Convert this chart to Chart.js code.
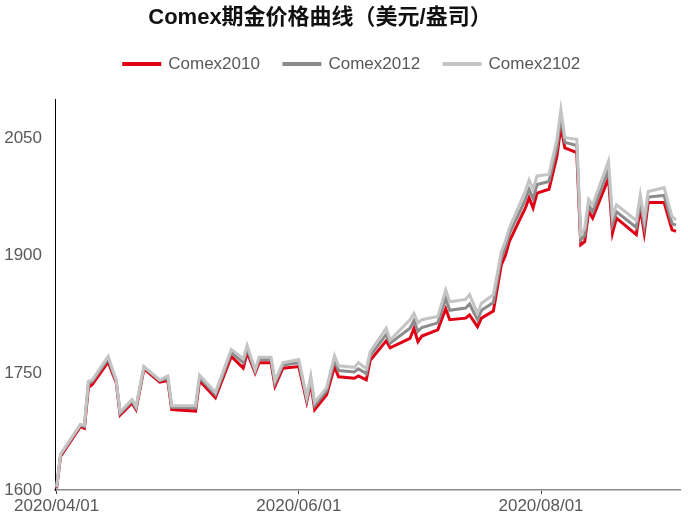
<!DOCTYPE html>
<html>
<head>
<meta charset="utf-8">
<script src="https://cdn.jsdelivr.net/npm/chart.js@4.4.1/dist/chart.umd.min.js"></script>
<style>
  html, body { margin: 0; padding: 0; background: #fff; }
  #wrap { width: 688px; height: 521px; }
</style>
</head>
<body>
<div id="wrap"><canvas id="myChart" width="688" height="521"></canvas></div>
<script>
// trading days (only where the lines turn)
var dates = [
  '2020-04-01','2020-04-02','2020-04-07','2020-04-08','2020-04-09','2020-04-10','2020-04-14','2020-04-15',
  '2020-04-16','2020-04-17','2020-04-20','2020-04-21','2020-04-23','2020-04-27','2020-04-29','2020-04-30',
  '2020-05-06','2020-05-07','2020-05-11','2020-05-15','2020-05-18','2020-05-19','2020-05-21','2020-05-22',
  '2020-05-25','2020-05-26','2020-05-28',
  '2020-06-01','2020-06-03','2020-06-04','2020-06-05','2020-06-08','2020-06-10','2020-06-11','2020-06-15',
  '2020-06-16','2020-06-18','2020-06-19','2020-06-23','2020-06-24','2020-06-29','2020-06-30',
  '2020-07-01','2020-07-02','2020-07-06','2020-07-08','2020-07-09','2020-07-13','2020-07-14','2020-07-16',
  '2020-07-17','2020-07-20','2020-07-22','2020-07-23','2020-07-24','2020-07-27','2020-07-28','2020-07-29',
  '2020-07-30','2020-07-31',
  '2020-08-03','2020-08-05','2020-08-06','2020-08-07','2020-08-10','2020-08-11','2020-08-12','2020-08-13',
  '2020-08-14','2020-08-18','2020-08-19','2020-08-20','2020-08-25','2020-08-26','2020-08-27','2020-08-28',
  '2020-09-01','2020-09-03','2020-09-04'
];

var comex2010 = [
  1602,1643,1681,1679,1731,1735,1764,1750,1738,1696,1711,1703,1755,1738,1740,1703,
  1701,1740,1718,1771,1756,1776,1750,1763,1763,1733,1756,
  1758,1713,1737,1703,1722,1758,1745,1743,1746,1741,1766,1791,1782,1794,1807,
  1790,1797,1805,1832,1818,1820,1824,1809,1820,1829,1888,1900,1918,1950,1960,1974,1961,1980,
  1985,2027,2065,2038,2032,1914,1918,1957,1948,1999,1929,1948,1927,1961,1929,1968,
  1968,1933,1931
];

var comex2012 = [
  1603,1645,1683,1681,1736,1739,1768,1753,1740,1698,1714,1705,1757,1740,1743,1706,
  1705,1744,1722,1776,1763,1781,1752,1767,1767,1737,1760,
  1763,1716,1742,1708,1727,1766,1753,1751,1755,1749,1772,1799,1788,1807,1817,
  1803,1808,1814,1845,1830,1833,1838,1818,1830,1840,1897,1910,1928,1960,1971,1985,1973,1991,
  1995,2038,2077,2045,2041,1920,1926,1965,1956,2010,1940,1956,1936,1970,1938,1975,
  1977,1941,1939
];

var comex2102 = [
  1604,1646,1684,1683,1739,1741,1771,1756,1741,1700,1716,1707,1758,1741,1746,1708,
  1708,1747,1725,1780,1768,1785,1754,1770,1770,1740,1763,
  1767,1719,1746,1712,1731,1772,1759,1757,1763,1755,1777,1807,1792,1818,1826,
  1814,1818,1822,1856,1841,1844,1850,1826,1839,1850,1905,1918,1935,1970,1982,1997,1985,2002,
  2004,2049,2087,2051,2049,1927,1935,1972,1965,2021,1950,1965,1945,1978,1947,1982,
  1987,1950,1946
];

var xTickLabels = ['2020/04/01','2020/06/01','2020/08/01'];
var yTicks = [1600, 1750, 1900, 2050];

var fontFamily = '"Liberation Sans", Arial, "Noto Sans CJK SC", sans-serif';
var textColor = '#595959';

function dayOf(s) {
  var p = s.split(/[-\/]/);
  return (Date.UTC(+p[0], +p[1] - 1, +p[2]) - Date.UTC(2020, 3, 1)) / 86400000;
}

function points(values) {
  return values.map(function (v, i) { return { x: dayOf(dates[i]), y: v }; });
}

// gap under the legend, and nudge title / legend sideways like the original
var legendGap = {
  id: 'legendGap',
  beforeInit: function (chart) {
    var fit = chart.legend.fit;
    chart.legend.fit = function () {
      fit.bind(chart.legend)();
      this.height += 17;
    };
  },
  afterLayout: function (chart) {
    chart.titleBlock.right = chart.titleBlock.left + 640;
    chart.legend.left += 12;
    chart.legend.right += 12;
  }
};

var ctx = document.getElementById('myChart').getContext('2d');
var chart = new Chart(ctx, {
  type: 'line',
  data: {
    datasets: [{
      label: 'Comex2010',
      data: points(comex2010),
      borderColor: '#E00016',
      backgroundColor: '#E00016',
      order: 2
    }, {
      label: 'Comex2012',
      data: points(comex2012),
      borderColor: '#8C8C8C',
      backgroundColor: '#8C8C8C',
      order: 1
    }, {
      label: 'Comex2102',
      data: points(comex2102),
      borderColor: '#C4C4C4',
      backgroundColor: '#C4C4C4',
      order: 0
    }]
  },
  plugins: [legendGap],
  options: {
    responsive: false,
    animation: false,
    layout: { padding: { left: 0, right: 8, top: 0, bottom: 0 } },
    elements: {
      line: { borderWidth: 3, tension: 0 },
      point: { radius: 0 }
    },
    plugins: {
      title: {
        display: true,
        text: 'Comex期金价格曲线（美元/盎司）',
        color: '#111',
        font: { family: fontFamily, size: 22, weight: 'bold' },
        padding: { top: 5, bottom: 0 }
      },
      legend: {
        display: true,
        labels: {
          color: textColor,
          font: { family: fontFamily, size: 17 },
          boxWidth: 36,
          boxHeight: 1,
          padding: 24,
          sort: function (a, b) { return a.datasetIndex - b.datasetIndex; }
        }
      },
      tooltip: { enabled: false }
    },
    scales: {
      x: {
        type: 'linear',
        min: -0.4,
        max: 157,
        afterBuildTicks: function (scale) {
          scale.ticks = xTickLabels.map(function (t) { return { value: dayOf(t) }; });
        },
        afterFit: function (scale) { scale.height = 31; },
        ticks: {
          autoSkip: false,
          maxRotation: 0,
          padding: 2,
          color: textColor,
          font: { family: fontFamily, size: 17 },
          callback: function (value) {
            var i = xTickLabels.map(dayOf).indexOf(value);
            return i >= 0 ? xTickLabels[i] : '';
          }
        },
        grid: {
          display: true,
          drawOnChartArea: false,
          drawTicks: true,
          tickLength: 4,
          color: '#444'
        },
        border: { display: true, color: '#8a8a8a', width: 1.5 }
      },
      y: {
        min: 1600,
        max: 2100,
        afterBuildTicks: function (scale) {
          scale.ticks = yTicks.map(function (v) { return { value: v }; });
        },
        afterFit: function (scale) { scale.width = 55; },
        ticks: {
          padding: 13,
          color: textColor,
          font: { family: fontFamily, size: 17 },
          callback: function (value) { return String(value); }
        },
        grid: { display: false, drawTicks: false },
        border: { display: true, color: '#000', width: 1 }
      }
    }
  }
});
</script>
</body>
</html>
